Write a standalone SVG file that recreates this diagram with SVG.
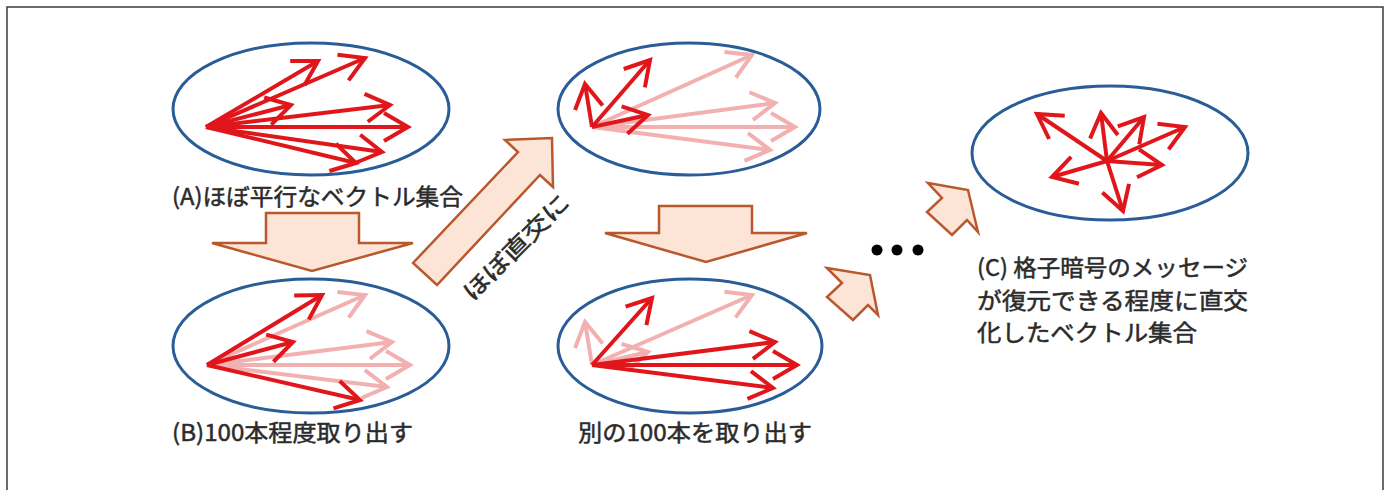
<svg xmlns="http://www.w3.org/2000/svg" width="1389" height="490" viewBox="0 0 1389 490">
<style>
.frame{fill:none;stroke:#3a3a3a;stroke-width:1.5}
.ell{fill:#ffffff;stroke:#2A5D97;stroke-width:3}
.big{fill:#FCE4D6;stroke:#B9582C;stroke-width:2.5;stroke-linejoin:miter}
.v{fill:none;stroke:#E0161B;stroke-width:4;marker-end:url(#hr)}
.p{fill:none;stroke:#F3B0B0;stroke-width:4;marker-end:url(#hp)}
.t{font-family:"Noto Sans CJK JP","Noto Sans",sans-serif;font-size:23px;fill:#2b2b2b;stroke:#2b2b2b;stroke-width:0.5}
</style>
<defs>
<marker id="hr" viewBox="-30 -20 40 40" refX="0" refY="0" markerWidth="40" markerHeight="40" markerUnits="userSpaceOnUse" orient="auto"><path d="M-24,-14 L0,0 L-24,14" fill="none" stroke="#E0161B" stroke-width="4"/></marker>
<marker id="hp" viewBox="-30 -20 40 40" refX="0" refY="0" markerWidth="40" markerHeight="40" markerUnits="userSpaceOnUse" orient="auto"><path d="M-24,-14 L0,0 L-24,14" fill="none" stroke="#F3B0B0" stroke-width="4"/></marker>
</defs>
<rect class="frame" x="7" y="7" width="1376" height="500"/>

<g id="nodeA">
<ellipse class="ell" cx="311" cy="109" rx="138" ry="66"/>
<line class="v" x1="206" y1="127" x2="318" y2="61"/>
<line class="v" x1="206" y1="127" x2="365" y2="58"/>
<line class="v" x1="206" y1="127" x2="291" y2="105"/>
<line class="v" x1="206" y1="127" x2="390" y2="105"/>
<line class="v" x1="206" y1="127" x2="408" y2="127"/>
<line class="v" x1="206" y1="127" x2="382" y2="152"/>
<line class="v" x1="206" y1="127" x2="356" y2="163"/>
<text class="t" x="172" y="205" textLength="291" lengthAdjust="spacingAndGlyphs">(A)ほぼ平行なベクトル集合</text>
</g>

<g id="nodeB">
<ellipse class="ell" cx="311" cy="346" rx="138" ry="67"/>
<line class="p" x1="207" y1="365" x2="365" y2="295"/>
<line class="p" x1="207" y1="365" x2="392" y2="342"/>
<line class="p" x1="207" y1="365" x2="410" y2="365"/>
<line class="p" x1="207" y1="365" x2="387" y2="387"/>
<line class="v" x1="207" y1="365" x2="322" y2="295"/>
<line class="v" x1="207" y1="365" x2="293" y2="342"/>
<line class="v" x1="207" y1="365" x2="360" y2="400"/>
<text class="t" x="172" y="441" textLength="241" lengthAdjust="spacingAndGlyphs">(B)100本程度取り出す</text>
</g>

<g id="nodeTop">
<ellipse class="ell" cx="689" cy="109" rx="131" ry="66"/>
<line class="p" x1="592" y1="127" x2="752" y2="55"/>
<line class="p" x1="592" y1="127" x2="775" y2="103"/>
<line class="p" x1="592" y1="127" x2="795" y2="127"/>
<line class="p" x1="592" y1="127" x2="770" y2="150"/>
<line class="v" x1="592" y1="127" x2="585" y2="84"/>
<line class="v" x1="592" y1="127" x2="650" y2="60"/>
<line class="v" x1="592" y1="127" x2="648" y2="115"/>
</g>

<g id="nodeBottom">
<ellipse class="ell" cx="690" cy="346" rx="132" ry="67"/>
<line class="p" x1="592" y1="365" x2="585" y2="322"/>
<line class="p" x1="592" y1="365" x2="752" y2="295"/>
<line class="p" x1="592" y1="365" x2="648" y2="352"/>
<line class="v" x1="592" y1="365" x2="652" y2="298"/>
<line class="v" x1="592" y1="365" x2="775" y2="342"/>
<line class="v" x1="592" y1="365" x2="797" y2="365"/>
<line class="v" x1="592" y1="365" x2="773" y2="388"/>
<text class="t" x="578" y="441" textLength="234" lengthAdjust="spacingAndGlyphs">別の100本を取り出す</text>
</g>

<g id="nodeC">
<ellipse class="ell" cx="1110" cy="153" rx="138" ry="67"/>
<line class="v" x1="1107" y1="161" x2="1037" y2="114"/>
<line class="v" x1="1107" y1="161" x2="1101" y2="113"/>
<line class="v" x1="1107" y1="161" x2="1144" y2="117"/>
<line class="v" x1="1107" y1="161" x2="1185" y2="127"/>
<line class="v" x1="1107" y1="161" x2="1162" y2="165"/>
<line class="v" x1="1107" y1="161" x2="1052" y2="177"/>
<line class="v" x1="1107" y1="161" x2="1123" y2="211"/>
<text class="t" x="977" y="276" textLength="271" lengthAdjust="spacingAndGlyphs">(C) 格子暗号のメッセージ</text>
<text class="t" x="977" y="309" textLength="271" lengthAdjust="spacingAndGlyphs">が復元できる程度に直交</text>
<text class="t" x="977" y="341" textLength="220" lengthAdjust="spacingAndGlyphs">化したベクトル集合</text>
</g>

<g id="connectors">
<polygon class="big" points="266,213 359,213 359,243 413,243 312,271 212,243 266,243"/>
<polygon class="big" points="659,206 752,206 752,233 807,233 706,262 605,233 659,233"/>
<polygon class="big" points="413,263 518,152 505,140 552,138 553,187 540,175 437,285"/>
<text class="t" transform="translate(522,253) rotate(-45)" text-anchor="middle" textLength="139" lengthAdjust="spacingAndGlyphs">ほぼ直交に</text>
<polygon class="big" points="928,183 968,190 978,232 967,220 952,235 927,212 942,198"/>
<polygon class="big" points="827,268 870,275 878,315 868,305 853,320 827,297 842,283"/>
<circle cx="877" cy="250" r="5.5" fill="#000"/>
<circle cx="897" cy="250" r="5.5" fill="#000"/>
<circle cx="918" cy="250" r="5.5" fill="#000"/>
</g>
</svg>
